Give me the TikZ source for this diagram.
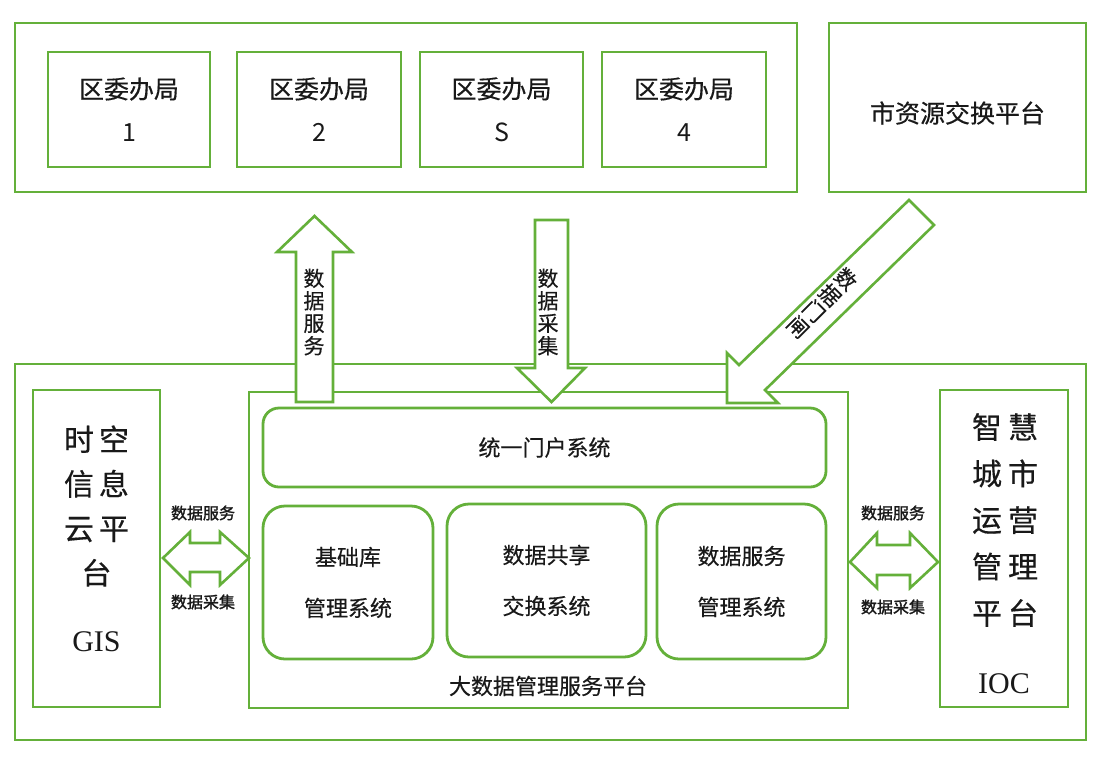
\documentclass[tikz,border=0pt]{standalone}
\usepackage{fontspec}
\setmainfont{Noto Sans CJK SC}
\newfontfamily\cjk[FakeBold=0.4]{Noto Sans CJK SC}
\newfontfamily\cjkl{Noto Sans CJK SC}
\newfontfamily\cjkb[FakeBold=1.6]{Noto Sans CJK SC}
\newfontfamily\latin{Liberation Serif}
\definecolor{grn}{RGB}{100,176,58}
\tikzset{
  box/.style={draw=grn, line width=2.8pt, fill=white, inner sep=0pt},
  rbox/.style={box, rounded corners=22pt},
  blockarrow/.style={draw=grn, line width=2.6pt, fill=white, line join=miter},
  big/.style={font=\cjk\fontsize{25}{43}\selectfont, align=center, text=black!90},
  mid/.style={font=\cjk\fontsize{22}{51}\selectfont, align=center, text=black!90},
  side/.style={font=\cjk\fontsize{30}{44.5}\selectfont, align=center, text=black!90},
  small/.style={font=\cjkb\fontsize{16}{18}\selectfont, text=black!90},
  vtext/.style={font=\cjk\fontsize{21}{22.5}\selectfont, align=center, text=black!90},
}
\begin{document}
\begin{tikzpicture}[x=1pt,y=-1pt]
\useasboundingbox[fill=white] (0,0) rectangle (1106,756);
% top region
\node[box, minimum width=782, minimum height=169] (top) at (406,107.5) {};
\node[box, minimum width=162, minimum height=115, big] (b1) at (129,109.5) {区委办局\\{\cjkl 1}};
\node[box, minimum width=164, minimum height=115, big] (b2) at (319,109.5) {区委办局\\{\cjkl 2}};
\node[box, minimum width=163, minimum height=115, big] (b3) at (501.5,109.5) {区委办局\\{\cjkl S}};
\node[box, minimum width=164, minimum height=115, big] (b4) at (684,109.5) {区委办局\\{\cjkl 4}};
\node[box, minimum width=257, minimum height=169] (city) at (957.5,107.5) {};
\node[big] (cityt) at (957.5,113) {市资源交换平台};
% bottom region
\node[box, minimum width=1071, minimum height=376] (bottom) at (550.5,552) {};
\node[box, minimum width=127, minimum height=317] (gis) at (96.5,548.5) {};
\node[side] (gist) at (96.5,506) {时\hspace{5pt}空\\信\hspace{5pt}息\\云\hspace{5pt}平\\台};
\node[font=\latin\fontsize{30}{30}\selectfont, text=black!90] (gisl) at (96.5,642) {GIS};
\node[box, minimum width=599, minimum height=316] (bd) at (548.5,550) {};
\node[rbox, rounded corners=16pt, minimum width=563, minimum height=79, mid] (portal) at (544.5,447.5) {统一门户系统};
\node[rbox, minimum width=170, minimum height=153, mid] (k1) at (348,582.5) {基础库\\管理系统};
\node[rbox, minimum width=199, minimum height=153, mid] (k2) at (546.5,580.5) {数据共享\\交换系统};
\node[rbox, minimum width=169, minimum height=155, mid] (k3) at (741.5,581.5) {数据服务\\管理系统};
\node[mid] (bdt) at (548,686) {大数据管理服务平台};
\node[box, minimum width=128, minimum height=317] (ioc) at (1004,548.5) {};
\node[side, font=\cjk\fontsize{30}{46.5}\selectfont] (ioct) at (1005,520) {智\hspace{6pt}慧\\城\hspace{6pt}市\\运\hspace{6pt}营\\管\hspace{6pt}理\\平\hspace{6pt}台};
\node[font=\latin\fontsize{30}{30}\selectfont, text=black!90] (iocl) at (1004,684) {IOC};
% up arrow (data service)
\draw[blockarrow] (296,402) -- (296,252) -- (277,252) -- (314.5,216) -- (352,252) -- (333,252) -- (333,402) -- cycle;
\node[vtext] (upt) at (314,312) {数\\据\\服\\务};
% down arrow (data collection)
\draw[blockarrow] (535,220) -- (568,220) -- (568,368) -- (585,368) -- (551.5,402) -- (517,368) -- (535,368) -- cycle;
\node[vtext] (downt) at (548,312) {数\\据\\采\\集};
% diagonal arrow
\draw[blockarrow] (909,200) -- (934,225) -- (765,390) -- (778,403) -- (727,403) -- (727,353) -- (739,365) -- cycle;
\node[vtext, rotate=-45] (diagt) at (822,303) {数\\据\\门\\闸};
% left double arrow
\draw[blockarrow] (163,558) -- (190,532) -- (190,543) -- (220,543) -- (220,532) -- (249,558) -- (220,585) -- (220,572) -- (190,572) -- (190,585) -- cycle;
\node[small] (l1) at (203,513) {数据服务};
\node[small] (l2) at (203,602) {数据采集};
% right double arrow
\draw[blockarrow] (850,562) -- (877,533) -- (877,545) -- (910,545) -- (910,533) -- (938,562) -- (910,588) -- (910,575) -- (877,575) -- (877,588) -- cycle;
\node[small] (r1) at (893,513) {数据服务};
\node[small] (r2) at (893,607) {数据采集};
\end{tikzpicture}
\end{document}
